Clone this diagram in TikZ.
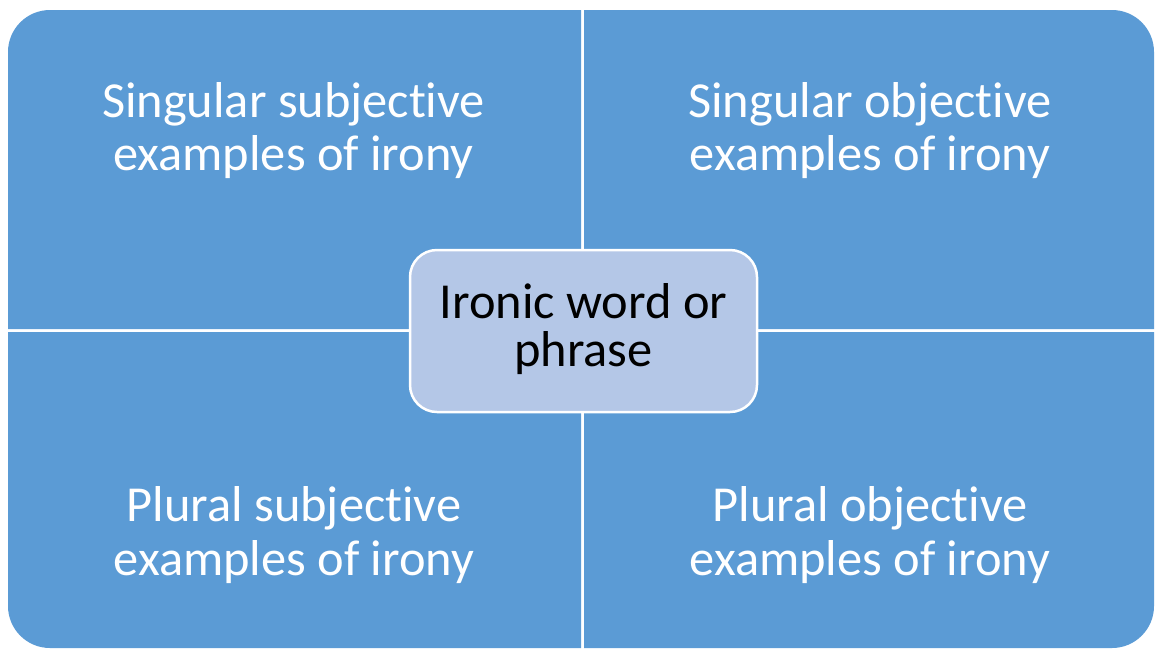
\documentclass[tikz,border=0pt]{standalone}
\usepackage{fontspec}
\setmainfont[Ligatures={NoCommon}]{Carlito}
\definecolor{quadblue}{HTML}{5B9BD5}
\definecolor{hubblue}{HTML}{B4C7E7}
\tikzset{
  quad/.style={fill=quadblue},
  outerline/.style={anchor=base, text=white, inner sep=0pt, font=\fontsize{50.4}{54}\selectfont},
  hubline/.style={anchor=base, text=black, inner sep=0pt, font=\fontsize{50.4}{54}\selectfont},
  hub/.style={fill=hubblue, draw=white, line width=2.5pt, rounded corners=27pt}
}
\begin{document}
\begin{tikzpicture}[x=1pt, y=-1pt]
\useasboundingbox (0,0) rectangle (1156,649);
% four quadrants, each rounded only at its outer corner
\fill[quad] (8,329) [rounded corners=42pt] -- (8,10) [sharp corners] -- (581,10) -- (581,329) -- cycle;
\fill[quad] (584,10) [rounded corners=42pt] -- (1154,10) [sharp corners] -- (1154,329) -- (584,329) -- cycle;
\fill[quad] (581,332) -- (581,648) [rounded corners=42pt] -- (8,648) [sharp corners] -- (8,332) -- cycle;
\fill[quad] (584,332) -- (1154,332) [rounded corners=42pt] -- (1154,648) [sharp corners] -- (584,648) -- cycle;
% quadrant labels
\node[outerline] (tl1) at (293.5,117) {Singular subjective};
\node[outerline] (tl2) at (293.5,170) {examples of irony};
\node[outerline] (tr1) at (870,117) {Singular objective};
\node[outerline] (tr2) at (870,170) {examples of irony};
\node[outerline] (bl1) at (294,521) {Plural subjective};
\node[outerline] (bl2) at (294,575) {examples of irony};
\node[outerline] (br1) at (870,521) {Plural objective};
\node[outerline] (br2) at (870,575) {examples of irony};
% central box
\draw[hub] (410,250) rectangle (757,412);
\node[hubline] (c1) at (583.5,318) {Ironic word or};
\node[hubline] (c2) at (583.5,366) {phrase};
\end{tikzpicture}
\end{document}
